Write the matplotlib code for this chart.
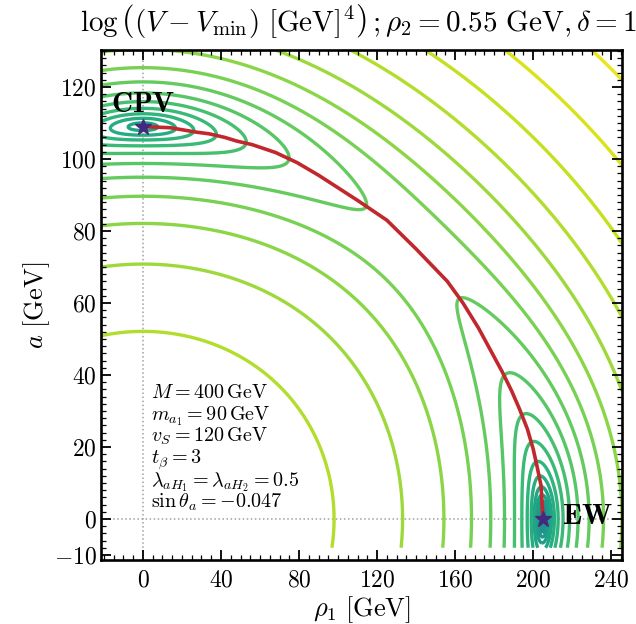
import numpy as np
import matplotlib.pyplot as plt
from matplotlib.colors import ListedColormap, Normalize
from matplotlib.ticker import MultipleLocator, FixedLocator

plt.rcParams['font.family'] = 'serif'
plt.rcParams['font.serif'] = ['cmr10']
plt.rcParams['mathtext.fontset'] = 'cm'
plt.rcParams['axes.formatter.use_mathtext'] = True

# potential model: two minima, EW at (v_ew, 0) and CPV at (0, a_cpv)
v_ew = 205.0
a_cpv = 109.0
kappa = 0.9985    # depth of the CPV minimum relative to the EW one
m_mix = 1.14      # rho1-a mixing, sets the barrier

# contour levels: log10 of (V - Vmin) in units of the EW depth
levels = [-5.225, -4.975, -4.725, -4.475, -4.225, -3.975, -3.725, -3.475,
          -3.225, -2.975, -2.725, -2.475, -2.225, -1.975, -1.725, -1.475,
          -1.225, -0.975, -0.725, -0.475, -0.225, 0.025, 0.275, 0.525]

# path between the two minima
path_rho = [0, 14, 27, 34, 42, 48, 56, 68, 79, 90, 100, 110, 125, 140, 148,
            156, 164, 172, 178, 184, 189, 193, 197, 200, 202, 204, 205]
path_a = [109, 108.7, 107.5, 107, 106, 105, 104, 101.8, 99, 95.5, 92, 88.5, 83,
          75, 70.5, 66, 60, 53, 47, 41, 35.5, 30.5, 25, 19.4, 14.5, 9.3, 0]

min_rho = [0, 205]
min_a = [109, 0]

info = [r'$M = 400\,\mathrm{GeV}$',
        r'$m_{a_1} = 90\,\mathrm{GeV}$',
        r'$v_S = 120\,\mathrm{GeV}$',
        r'$t_\beta = 3$',
        r'$\lambda_{aH_1} = \lambda_{aH_2} = 0.5$',
        r'$\sin\theta_a = -0.047$']

rho = np.linspace(-21.5, 245.5, 800)
a = np.linspace(-8, 131, 520)
R, A = np.meshgrid(rho, a)
X = R**2 / v_ew**2
Y = A**2 / a_cpv**2
f = (X - 1)**2 + kappa * (Y - 1)**2 - kappa + 2 * m_mix * X * Y
logf = np.log10(np.maximum(f, 1e-12))

cmap = ListedColormap(plt.cm.viridis(np.linspace(0.5, 0.97, 256)))
norm = Normalize(vmin=-3.5, vmax=0.525, clip=True)

fig = plt.figure(figsize=(6.36, 6.24), dpi=100)
ax = fig.add_axes([0.1588, 0.1026, 0.8192, 0.8173])

ax.axvline(0, color='#a0a0a0', ls=':', lw=1.1, zorder=0)
ax.axhline(0, color='#a0a0a0', ls=':', lw=1.1, zorder=0)

ax.contour(R, A, logf, levels=levels, cmap=cmap, norm=norm, linewidths=2.4, zorder=1)
ax.plot(path_rho, path_a, color='#c0282d', lw=2.6, zorder=3, solid_capstyle='round')
ax.plot(min_rho, min_a, ls='none', marker='*', ms=12, color='#45297f', zorder=4)

ax.text(0, 113, r'$\mathbf{CPV}$', fontsize=21, ha='center', va='baseline', zorder=5)
ax.text(214.5, 0.5, r'$\mathbf{EW}$', fontsize=21, ha='left', va='center', zorder=5)

for i, s in enumerate(info):
    ax.text(4, 33.6 - 6.1 * i, s, fontsize=14.5, ha='left', va='baseline', zorder=5)

ax.set_xlim(-21.5, 245.5)
ax.set_ylim(-11.4, 130.3)
ax.xaxis.set_major_locator(MultipleLocator(40))
ax.xaxis.set_minor_locator(MultipleLocator(5))
ax.yaxis.set_major_locator(FixedLocator([-10, 0, 20, 40, 60, 80, 100, 120]))
ax.yaxis.set_minor_locator(MultipleLocator(2))
ax.tick_params(which='both', direction='in', top=True, right=True, labelsize=17)
ax.tick_params(which='major', length=7, width=1.3)
ax.tick_params(which='minor', length=3.5, width=0.9)
ax.tick_params(axis='x', pad=7)
ax.tick_params(axis='y', pad=3)
for sp in ax.spines.values():
    sp.set_linewidth(1.9)

ax.set_xlabel(r'$\rho_1\ [\mathrm{GeV}]$', fontsize=19, labelpad=2)
ax.set_ylabel(r'$a\ [\mathrm{GeV}]$', fontsize=19, labelpad=1)

# the title runs past the right edge of the figure, as in the original
fig.text(80 / 636, 1 - 31 / 624,
         r'$\log\left((V - V_{\min})\ [\mathrm{GeV}]^4\right)\,; \rho_2 = 0.55\ \mathrm{GeV}, \delta = 1.2$',
         fontsize=21, ha='left', va='baseline')

fig.savefig('out.png', dpi=100)
